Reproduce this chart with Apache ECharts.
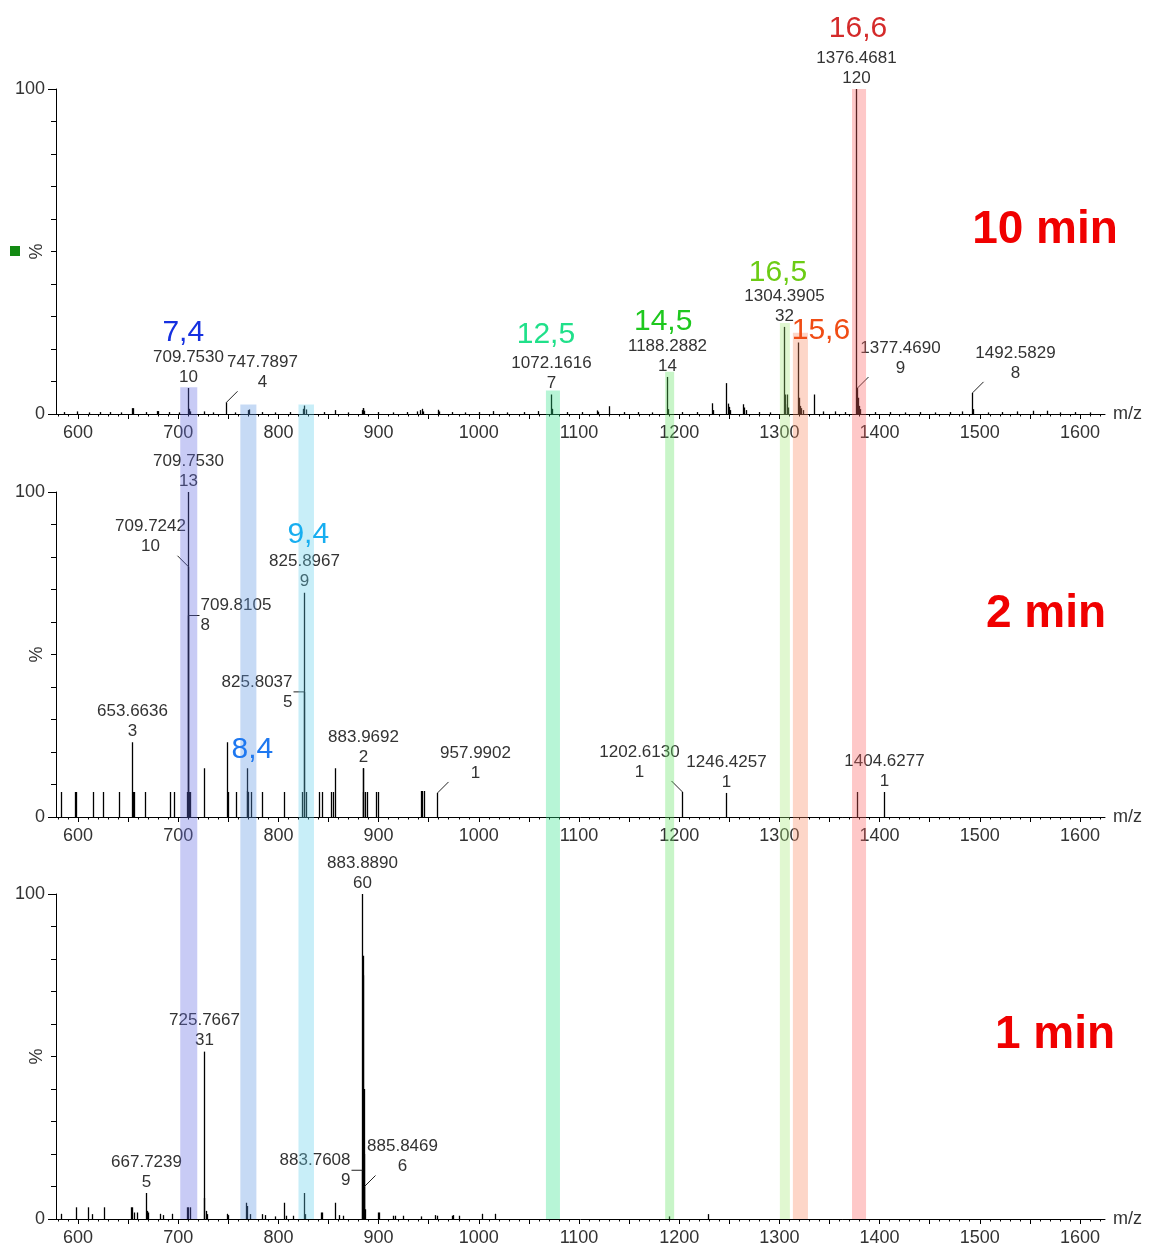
<!DOCTYPE html>
<html>
<head>
<meta charset="utf-8">
<title>ESI-MS spectra at 1, 2 and 10 min</title>
<script src="https://cdn.jsdelivr.net/npm/echarts@6/dist/echarts.min.js"></script>
<style>
  html, body { margin: 0; padding: 0; background: #fff; }
  #chart { width: 1152px; height: 1255px; }
</style>
</head>
<body>
<div id="chart"></div>
<script>
// ---------------------------------------------------------------------------
// Spectra: [m/z, relative intensity %]
// ---------------------------------------------------------------------------
const peaks10min = [
  [585.5,0.6],[598.5,0.8],[611,0.5],[622,0.6],[632,0.6],[643,0.5],[653.6,1.8],[655.2,1.8],[668,0.6],
  [678.5,0.9],[680.1,0.9],[691,0.6],[700.5,0.5],
  [709.7530,8.0],[710.3,1.6],[711.0,1.0],[711.8,0.8],[725.8,0.8],[735,0.5],[747.7897,3.6],[757,0.5],
  [769.6,1.2],[770.3,1.4],[784,0.6],[797,0.5],[812,0.6],
  [824.8,1.6],[825.9,2.6],[827.4,1.4],[845,0.6],[856.5,1.2],[869,0.5],[883.6,1.2],[884.2,1.8],[884.8,1.8],
  [885.5,1.0],[899,0.6],[914,0.5],[928,0.6],
  [938.5,0.8],[941,1.2],[943,1.6],[944,0.8],[959.6,1.3],[960.5,0.8],[973,0.6],[986,0.5],[1000,0.6],
  [1014.5,0.9],[1028,0.5],[1045,0.6],[1059.4,0.9],
  [1072.1616,6.0],[1073.2,1.6],[1088,0.6],[1103,0.6],[1117.6,1.1],[1118.5,0.7],[1130.3,2.4],[1145,0.6],
  [1159,0.6],[1173,0.5],[1188.2882,11.4],[1189.2,1.5],
  [1203,0.6],[1218,0.6],[1232.4,3.3],[1233.5,1.2],[1246.6,9.5],[1248.5,3.2],[1249.5,2.2],[1251,1.2],
  [1264,3.0],[1265,2.0],[1266.2,1.2],[1280,0.6],[1291,0.5],
  [1304.3905,26.8],[1305.2,6],[1306,3],[1307.2,6],[1308.2,2],[1318.9,22],[1319.7,5],[1320.6,2.5],
  [1321.8,1.8],[1323.5,1.2],[1334.5,6],[1343.8,0.8],[1355.5,0.8],[1365,0.6],
  [1376.4681,100],[1377.4690,8.0],[1378.3,5],[1379.2,2.5],[1380.2,1.5],[1395,0.6],[1410,0.6],[1425,0.5],
  [1440,0.6],[1455,0.5],[1470,0.6],[1481.9,0.8],[1492.5829,6.5],[1493.6,1.5],
  [1508,0.5],[1522,0.6],[1536.8,0.8],[1553.4,1.0],[1566.7,1.0],[1580,0.5],[1595,0.6],[1610,0.5]
];

const peaks2min = [
  [583.0,7.7],[597.3,7.7],[598.3,7.7],[615.0,7.7],[625.2,7.7],[640.9,7.7],[653.6636,23],[655.2,7.7],
  [656.2,7.7],[666.9,7.7],[691.8,7.7],[695.8,7.7],
  [709.2,7.7],[709.7242,77],[709.7530,100],[709.8105,62],[710.5,7.7],[711.5,7.7],
  [725.7,15],[748.7,23],[749.7,7.7],[757.7,7.7],[768.3,15],[768.9,8],[769.5,7.7],[772.4,7.7],
  [783.9,7.7],[805.8,7.7],[823.7,7.7],[825.8037,38.5],[825.8967,69],[827.7,7.7],[840.9,7.7],[843.2,7.7],
  [852.5,7.7],[854.8,7.7],[856.5,15],[883.9692,15],[884.5,15],[884.9,7.7],[886.4,7.7],[888.1,7.7],
  [897.4,7.7],[899.4,7.7],[942.0,8],[943.4,8],[945.4,8],[957.9902,7.4],
  [1202.6130,7.7],[1246.4257,7.4],[1377.2,7.7],[1404.6277,7.7]
];

const peaks1min = [
  [583.0,1.6],[598.0,3.6],[610.0,3.6],[614.0,1.5],[626.0,3.6],[652.6,3.6],[653.6,3.6],[656.2,2],[658.6,2],
  [667.7239,8],[668.5,2.5],[669.5,2],[681.8,1.6],[684.5,1.2],[693.5,1.6],[708.5,3.6],[710.1,3.6],[711.8,3.6],
  [725.7667,51.5],[726.2,6.5],[727.4,2.5],[728.4,1.5],[748.4,1.6],[750.0,1.2],[767.7,5],[768.7,4],[771.7,1.5],
  [783.9,1.5],[786.6,1.2],[796.6,0.8],[805.6,5],[807.6,1],[814.9,1],[825.9,8],[826.6,1.5],[842.5,2],[843.8,2],
  [856.5,5],[860.8,1.2],[864.2,1],[883.7608,15],[883.8890,100],[884.2,81],[884.6,75],[885.0,40],[885.3,20],
  [885.8469,10],[886.5,3],[899.1,2],[900.7,2],[914.7,1],[916.4,1],[924.1,1],[942.3,0.8],[956.3,1.2],[958.0,1],
  [973.0,1],[974.6,1.2],[980.5,1],[1003,1.6],[1015.9,1.6],[1189.7,0.8],[1228.3,1.5]
];

// Annotated peaks: [m/z, second label line]
const labels10min = [[709.7530,'10'],[747.7897,'4'],[1072.1616,'7'],[1188.2882,'14'],
                     [1304.3905,'32'],[1376.4681,'120'],[1377.4690,'9'],[1492.5829,'8']];
const labels2min  = [[653.6636,'3'],[709.7530,'13'],[709.7242,'10'],[709.8105,'8'],[825.8967,'9'],
                     [825.8037,'5'],[883.9692,'2'],[957.9902,'1'],[1202.6130,'1'],[1246.4257,'1'],[1404.6277,'1']];
const labels1min  = [[667.7239,'5'],[725.7667,'31'],[883.8890,'60'],[883.7608,'9'],[885.8469,'6']];

// Charge-state windows (m/z range, reach in the 10 min trace in %)
const bandNames = ['7,4','8,4','9,4','12,5','14,5','16,5','15,6','16,6'];
const bandFrom  = [702, 762, 820, 1067, 1186, 1300.5, 1313.5, 1372.5];
const bandTo    = [719, 778, 835.5, 1081, 1195, 1310.5, 1328.5, 1386.5];
const bandTop   = [8.2, 2.9, 2.9, 7.2, 13, 28, 25, 100];

// Axis ticks
const xTickLabels = [600,700,800,900,1000,1100,1200,1300,1400,1500,1600];
const xTicksMajor = [600,650,700,750,800,850,900,950,1000,1050,1100,1150,1200,1250,1300,1350,1400,1450,1500,1550,1600];
const xTicksMinor = [];
for (let v = 580; v <= 1620; v += 10) xTicksMinor.push(v);

const panelTitles = ['10 min', '2 min', '1 min'];

// ---------------------------------------------------------------------------
// Layout and styling
// ---------------------------------------------------------------------------
const FONT = '"Liberation Sans", Arial, sans-serif';
const PANEL_TOPS = [89, 492, 894];
const PANEL_H = 325;
const LEFT = 56, RIGHT = 47;
const X_MIN = 578, X_MAX = 1625;
const OVERLAY_MIN = -((PANEL_TOPS[2] + PANEL_H) - (PANEL_TOPS[0] + PANEL_H)) / PANEL_H * 100;

const bandFill = [
  'rgba(98,106,226,0.35)', 'rgba(92,149,226,0.35)', 'rgba(98,206,235,0.35)', 'rgba(49,226,138,0.35)',
  'rgba(98,226,98,0.35)', 'rgba(166,232,121,0.35)', 'rgba(249,138,98,0.35)', 'rgba(252,98,98,0.35)'
];
const bandTextColor = ['#1530e0', '#1e78f0', '#17aef0', '#20e08a', '#1ec81e', '#6ccc14', '#f04c14', '#d42a2a'];
// pixel offset of each charge-state tag from the top centre of its window
const bandTextOffset = [[-5.5,-55],[4,345],[2,130],[-7,-56],[-6.5,-50],[-7,-50],[20.5,-2],[-1,-60]];

// label placement: up = centred above, dr/dl = diagonal leader, hr/hl = horizontal leader
const labelLayout = [
  [{t:'up'},{t:'dr',dx:36},{t:'up'},{t:'up'},{t:'up'},{t:'up'},{t:'dr',dx:43},{t:'dr',dx:43}],
  [{t:'up'},{t:'up'},{t:'dl',dx:-38},{t:'hr'},{t:'up'},{t:'hl'},{t:'up'},{t:'dr',dx:38},{t:'dl',dx:-43},{t:'up'},{t:'up'}],
  [{t:'up'},{t:'up'},{t:'up'},{t:'hl'},{t:'dr',dx:38}]
];

const spectra = [peaks10min, peaks2min, peaks1min];
const labelSets = [labels10min, labels2min, labels1min];

function intensityOf(peaks, mz) {
  const hit = peaks.find(p => Math.abs(p[0] - mz) < 1e-6);
  return hit ? hit[1] : 0;
}

// ---------------------------------------------------------------------------
// Option
// ---------------------------------------------------------------------------
const grids = [], xAxes = [], yAxes = [], series = [];

PANEL_TOPS.forEach((top, i) => {
  grids.push({ left: LEFT, right: RIGHT, top: top, height: PANEL_H,
               containLabel: false, outerBoundsMode: 'none' });

  xAxes.push({
    type: 'value', gridIndex: i, min: X_MIN, max: X_MAX, position: 'bottom',
    axisLine: { show: true, onZero: false, lineStyle: { color: '#000', width: 1 } },
    axisTick: { show: true, length: 5, customValues: xTicksMajor, lineStyle: { color: '#000' } },
    axisLabel: { customValues: xTickLabels, fontSize: 18, color: '#333', margin: 10, fontFamily: FONT,
                 formatter: v => String(v) },
    splitLine: { show: false },
    name: 'm/z', nameLocation: 'end', nameGap: 8, nameMoveOverlap: false,
    nameTextStyle: { fontSize: 18, color: '#333', fontFamily: FONT }
  });
  xAxes.push({
    type: 'value', gridIndex: i, min: X_MIN, max: X_MAX, position: 'bottom',
    axisLine: { show: false },
    axisTick: { show: true, length: 2.5, customValues: xTicksMinor, lineStyle: { color: '#000' } },
    axisLabel: { show: false },
    splitLine: { show: false }
  });

  yAxes.push({
    type: 'value', gridIndex: i, min: 0, max: 100, interval: 100,
    axisLine: { show: true, lineStyle: { color: '#000', width: 1 } },
    axisTick: { show: true, length: 8, lineStyle: { color: '#000' } },
    minorTick: { show: true, splitNumber: 10, length: 5, lineStyle: { color: '#000', width: 1 } },
    axisLabel: { fontSize: 18, color: '#333', margin: 11, fontFamily: FONT },
    splitLine: { show: false },
    name: '%', nameLocation: 'middle', nameGap: 10, nameMoveOverlap: false,
    nameTextStyle: { fontSize: 18, color: '#333', fontFamily: FONT }
  });

  // peak sticks
  series.push({
    type: 'custom', xAxisIndex: i * 2, yAxisIndex: i, z: 2, silent: true, clip: false,
    encode: { x: 0, y: 1 },
    data: spectra[i],
    renderItem: function (params, api) {
      const mz = api.value(0), h = api.value(1);
      const a = api.coord([mz, 0]), b = api.coord([mz, h]);
      const px = Math.round(a[0]) + 0.5;
      return { type: 'line', shape: { x1: px, y1: a[1], x2: px, y2: b[1] },
               style: { stroke: '#000', lineWidth: 1.3 } };
    }
  });

  // peak annotations
  const labelData = labelSets[i].map(l => [l[0], intensityOf(spectra[i], l[0])]);
  series.push({
    type: 'custom', xAxisIndex: i * 2, yAxisIndex: i, z: 3, silent: true, clip: false,
    encode: { x: 0, y: 1 },
    data: labelData,
    renderItem: function (params, api) {
      const idx = params.dataIndex;
      const mz = api.value(0), h = api.value(1);
      const p = api.coord([mz, h]);
      const px = Math.round(p[0]) + 0.5, py = p[1];
      const lay = labelLayout[i][idx];
      const text = labelSets[i][idx][0].toFixed(4) + '\n' + labelSets[i][idx][1];
      const children = [];
      let tx = px, ty = py - 1, align = 'center', valign = 'bottom';
      if (lay.t === 'dr' || lay.t === 'dl') {
        const s = lay.t === 'dr' ? 1 : -1;
        children.push({ type: 'line', shape: { x1: px, y1: py, x2: px + s * 11, y2: py - 11 },
                        style: { stroke: '#222', lineWidth: 1 } });
        tx = px + lay.dx; ty = py - 10;
      } else if (lay.t === 'hr' || lay.t === 'hl') {
        const s = lay.t === 'hr' ? 1 : -1;
        children.push({ type: 'line', shape: { x1: px, y1: py, x2: px + s * 11, y2: py },
                        style: { stroke: '#222', lineWidth: 1 } });
        tx = px + s * 12; ty = py; align = s > 0 ? 'left' : 'right'; valign = 'middle';
      }
      children.push({ type: 'text', x: tx, y: ty,
        style: { text: text, fill: '#333', font: '17px ' + FONT, align: align,
                 verticalAlign: valign, lineHeight: 20 } });
      return { type: 'group', children: children };
    }
  });
});

// overlay grid spanning all three traces, scaled in 10 min trace units
grids.push({ left: LEFT, right: RIGHT, top: PANEL_TOPS[0], height: PANEL_TOPS[2] + PANEL_H - PANEL_TOPS[0],
             containLabel: false, outerBoundsMode: 'none' });
xAxes.push({ type: 'value', gridIndex: 3, min: X_MIN, max: X_MAX, show: false });
yAxes.push({ type: 'value', gridIndex: 3, min: OVERLAY_MIN, max: 100, show: false });

const bandData = bandFrom.map((f, k) => [f, bandTo[k], bandTop[k]]);

series.push({
  type: 'custom', xAxisIndex: 6, yAxisIndex: 3, z: 10, silent: true, clip: false,
  data: bandData,
  renderItem: function (params, api) {
    const tl = api.coord([api.value(0), api.value(2)]);
    const br = api.coord([api.value(1), OVERLAY_MIN]);
    return { type: 'rect', shape: { x: tl[0], y: tl[1], width: br[0] - tl[0], height: br[1] - tl[1] },
             style: { fill: bandFill[params.dataIndex] } };
  }
});

series.push({
  type: 'custom', xAxisIndex: 6, yAxisIndex: 3, z: 11, silent: true, clip: false,
  data: bandData,
  renderItem: function (params, api) {
    const k = params.dataIndex;
    const c = api.coord([(api.value(0) + api.value(1)) / 2, api.value(2)]);
    return { type: 'text', x: c[0] + bandTextOffset[k][0], y: c[1] + bandTextOffset[k][1],
             style: { text: bandNames[k], fill: bandTextColor[k], font: '30px ' + FONT,
                      align: 'center', verticalAlign: 'middle' } };
  }
});

const titlePos = [[1045, 230], [1046, 614], [1055, 1035]];

const option = {
  animation: false,
  backgroundColor: '#fff',
  grid: grids,
  xAxis: xAxes,
  yAxis: yAxes,
  series: series,
  graphic: [
    { type: 'rect', shape: { x: 10, y: 246, width: 10, height: 10 }, style: { fill: '#138a13' } }
  ].concat(panelTitles.map((t, i) => ({
    type: 'text', x: titlePos[i][0], y: titlePos[i][1], z: 20,
    style: { text: t, fill: '#f00000', font: 'bold 46px ' + FONT, align: 'center', verticalAlign: 'middle' }
  })))
};

const chart = echarts.init(document.getElementById('chart'), null, { renderer: 'canvas' });
chart.setOption(option);
</script>
</body>
</html>
